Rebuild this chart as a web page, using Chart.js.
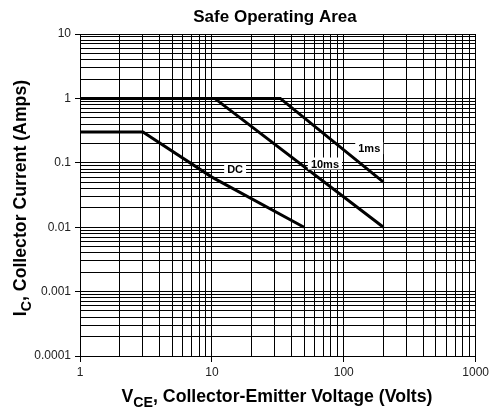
<!DOCTYPE html>
<html>
<head>
<meta charset="utf-8">
<script src="https://cdn.jsdelivr.net/npm/chart.js@4.4.1/dist/chart.umd.min.js"></script>
<style>
  html, body { margin: 0; padding: 0; background: #fff; }
  #wrap { width: 492px; height: 413px; }
</style>
</head>
<body>
<div id="wrap"><canvas id="soa-chart"></canvas></div>
<script>
// Axis decades (labelled ticks)
const xDecades = [1, 10, 100, 1000];
const yDecades = [0.0001, 0.001, 0.01, 0.1, 1, 10];

// SOA curves: corner points [V, A]
const curve1ms = [[1, 1], [33, 1], [200, 0.05]];
const curve10ms = [[1, 1], [10.5, 1], [200, 0.01]];
const curveDC = [[1, 0.3], [3, 0.3], [10, 0.06], [50, 0.01]];

// Curve labels and where they sit (data coords)
const curveNames = ['1ms', '10ms', 'DC'];
const curveLabelPos = [[156, 0.169], [72, 0.0975], [15, 0.079]];

const chartTitle = 'Safe Operating Area';
const FONT = '"Liberation Sans", Arial, Helvetica, sans-serif';

// 1..9 x each decade for the grid
const buildLogTicks = (decades) => {
  const vals = [];
  for (let i = 0; i < decades.length - 1; i++) {
    for (let k = 1; k <= 9; k++) {
      vals.push(parseFloat((k * decades[i]).toPrecision(4)));
    }
  }
  vals.push(decades[decades.length - 1]);
  return vals;
};

const isDecade = (v, decades) => decades.some(d => Math.abs(d - v) / d < 1e-6);

const toPoints = (arr) => arr.map(p => ({ x: p[0], y: p[1] }));

// Text with a subscript, centred on (cx, y)
const drawSubText = (ctx, main, sub, rest, cx, y, size) => {
  const big = 'bold ' + size + 'px ' + FONT;
  const small = 'bold ' + (size * 0.8).toFixed(1) + 'px ' + FONT;
  ctx.font = big;
  const w1 = ctx.measureText(main).width;
  const w3 = ctx.measureText(rest).width;
  ctx.font = small;
  const w2 = ctx.measureText(sub).width;
  let x = cx - (w1 + w2 + w3) / 2;
  ctx.textAlign = 'left';
  ctx.textBaseline = 'alphabetic';
  ctx.font = big;
  ctx.fillText(main, x, y);
  x += w1;
  ctx.font = small;
  ctx.fillText(sub, x, y + 5);
  x += w2;
  ctx.font = big;
  ctx.fillText(rest, x, y);
};

const textPlugin = {
  id: 'soaText',
  afterDatasetsDraw(chart) {
    const { ctx, scales } = chart;
    ctx.save();
    ctx.font = 'bold 11px ' + FONT;
    ctx.textAlign = 'center';
    ctx.textBaseline = 'middle';
    curveNames.forEach((name, i) => {
      const px = scales.x.getPixelForValue(curveLabelPos[i][0]);
      const py = scales.y.getPixelForValue(curveLabelPos[i][1]);
      const w = ctx.measureText(name).width;
      ctx.fillStyle = '#fff';
      ctx.fillRect(px - w / 2 - 3, py - 6, w + 6, 12);
      ctx.fillStyle = '#000';
      ctx.fillText(name, px, py + 1);
    });
    ctx.restore();
  },
  afterDraw(chart) {
    const { ctx } = chart;
    ctx.save();
    ctx.fillStyle = '#000';

    // Title
    ctx.font = 'bold 17px ' + FONT;
    ctx.textAlign = 'center';
    ctx.textBaseline = 'alphabetic';
    ctx.fillText(chartTitle, 275, 22);

    // X axis title
    drawSubText(ctx, 'V', 'CE', ', Collector-Emitter Voltage (Volts)', 277, 402, 17.7);

    // Y axis title
    ctx.translate(26, 198);
    ctx.rotate(-Math.PI / 2);
    drawSubText(ctx, 'I', 'C', ', Collector Current (Amps)', 0, 0, 17.7);
    ctx.restore();
  }
};

const makeLine = (label, pts) => ({
  label,
  data: toPoints(pts),
  borderColor: '#000',
  borderWidth: 3,
  pointRadius: 0,
  fill: false,
  tension: 0
});

const ctx = document.getElementById('soa-chart').getContext('2d');

new Chart(ctx, {
  type: 'line',
  data: {
    datasets: [
      makeLine('1ms', curve1ms),
      makeLine('10ms', curve10ms),
      makeLine('DC', curveDC)
    ]
  },
  options: {
    responsive: true,
    maintainAspectRatio: false,
    animation: false,
    layout: { padding: { top: 34, right: 14, bottom: 0, left: 0 } },
    plugins: {
      legend: { display: false },
      tooltip: { enabled: false },
      title: { display: false }
    },
    scales: {
      x: {
        type: 'logarithmic',
        min: 1,
        max: 1000,
        afterBuildTicks: (scale) => {
          scale.ticks = buildLogTicks(xDecades).map(v => ({ value: v }));
        },
        afterFit: (scale) => { scale.height = 57; },
        border: { display: true, color: '#000', width: 1 },
        grid: {
          color: '#000',
          lineWidth: 1,
          tickLength: 6,
          tickColor: (c) => (c.tick && isDecade(c.tick.value, xDecades)) ? '#000' : 'rgba(0,0,0,0)'
        },
        ticks: {
          autoSkip: false,
          maxRotation: 0,
          padding: 3,
          color: '#222',
          font: { family: FONT, size: 12 },
          callback: (v) => isDecade(v, xDecades) ? String(v) : ''
        }
      },
      y: {
        type: 'logarithmic',
        min: 0.0001,
        max: 10,
        afterBuildTicks: (scale) => {
          scale.ticks = buildLogTicks(yDecades).map(v => ({ value: v }));
        },
        afterFit: (scale) => { scale.width = 80; },
        border: { display: true, color: '#000', width: 1 },
        grid: {
          color: '#000',
          lineWidth: 1,
          tickLength: 5,
          tickColor: (c) => (c.tick && isDecade(c.tick.value, yDecades)) ? '#000' : 'rgba(0,0,0,0)'
        },
        ticks: {
          autoSkip: false,
          padding: 4,
          color: '#222',
          font: { family: FONT, size: 12 },
          callback: (v) => isDecade(v, yDecades) ? String(v) : ''
        }
      }
    }
  },
  plugins: [textPlugin]
});
</script>
</body>
</html>
